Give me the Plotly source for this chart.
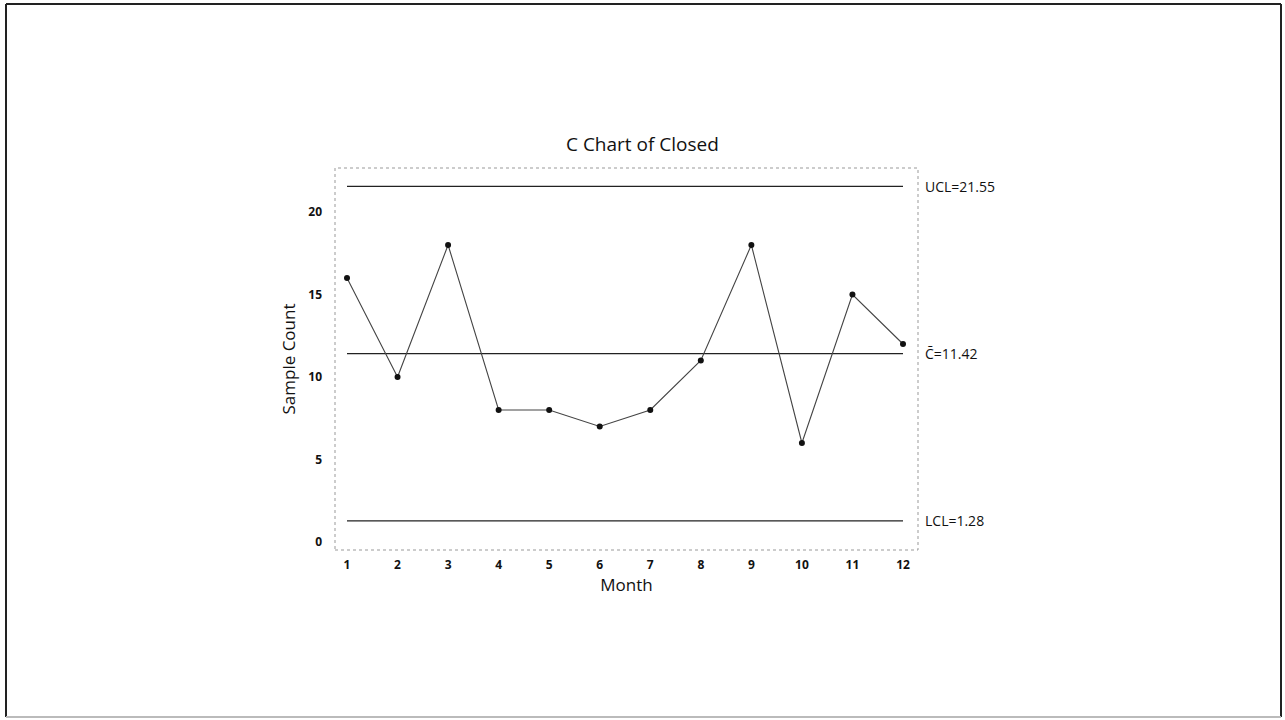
import plotly.graph_objects as go

months = list(range(1, 13))
counts = [16, 10, 18, 8, 8, 7, 8, 11, 18, 6, 15, 12]
ucl = 21.55
cbar = 11.42
lcl = 1.28
y_ticks = [0, 5, 10, 15, 20]

W, H = 1285, 720
L, R, T, B = 335, 918, 168, 550

def px(xp):
    return (xp - L) / (R - L)

def py(yp):
    return (B - yp) / (B - T)

font = "Open Sans"

fig = go.Figure()
for val in [ucl, cbar, lcl]:
    fig.add_trace(go.Scatter(x=[months[0], months[-1]], y=[val, val], mode="lines",
                             line=dict(color="#222", width=1.3), hoverinfo="skip", showlegend=False))
fig.add_trace(go.Scatter(x=months, y=counts, mode="lines+markers",
                         line=dict(color="#444", width=1.1),
                         marker=dict(color="#111", size=6), showlegend=False))

labels = [(ucl, "UCL=21.55"), (cbar, "C\u0304=11.42"), (lcl, "LCL=1.28")]
for val, txt in labels:
    fig.add_annotation(x=px(923), xref="paper", y=val, yref="y", text=txt, showarrow=False,
                       xanchor="left", yanchor="middle", font=dict(family=font, size=14, color="#111"))

fig.add_annotation(x=px(642), xref="paper", y=py(144), yref="paper", text="C Chart of Closed",
                   showarrow=False, yanchor="middle", font=dict(family=font, size=19, color="#111"))

shapes = [
    dict(type="rect", xref="paper", yref="paper", x0=0, x1=1, y0=0, y1=1,
         line=dict(color="#999", width=1, dash="dot")),
    dict(type="line", xref="paper", yref="paper", x0=px(6), x1=px(1281), y0=py(4), y1=py(4),
         line=dict(color="#222", width=2)),
    dict(type="line", xref="paper", yref="paper", x0=px(6), x1=px(6), y0=py(717), y1=py(4),
         line=dict(color="#222", width=2)),
    dict(type="line", xref="paper", yref="paper", x0=px(1281), x1=px(1281), y0=py(717), y1=py(4),
         line=dict(color="#222", width=2)),
    dict(type="line", xref="paper", yref="paper", x0=px(6), x1=px(1281), y0=py(717), y1=py(717),
         line=dict(color="#bbb", width=2)),
]
fig.update_layout(shapes=shapes)

x0 = 1 - (347 - L) / ((903 - 347) / 11)
x1 = 12 + (R - 903) / ((903 - 347) / 11)
u = (542 - 212) / 20
y0 = -(B - 542) / u
y1 = 20 + (212 - T) / u

fig.update_xaxes(range=[x0, x1], tickvals=months, showgrid=False, zeroline=False,
                 showline=False, ticks="", ticklabelstandoff=6,
                 title=dict(text="Month", font=dict(family=font, size=17, color="#111"), standoff=4),
                 tickfont=dict(family=font, size=12, color="#111", weight="bold"))
fig.update_yaxes(range=[y0, y1], tickvals=y_ticks, showgrid=False, zeroline=False,
                 showline=False, ticks="", ticklabelstandoff=12,
                 title=dict(text="Sample Count", font=dict(family=font, size=17, color="#111"), standoff=8),
                 tickfont=dict(family=font, size=12, color="#111", weight="bold"))

fig.update_layout(width=W, height=H, margin=dict(l=L, r=W - R, t=T, b=H - B),
                  plot_bgcolor="white", paper_bgcolor="white", showlegend=False)

fig.write_html("out.html", config={"displayModeBar": False},
               post_script="document.body.style.margin='0';document.body.style.overflow='hidden';")
